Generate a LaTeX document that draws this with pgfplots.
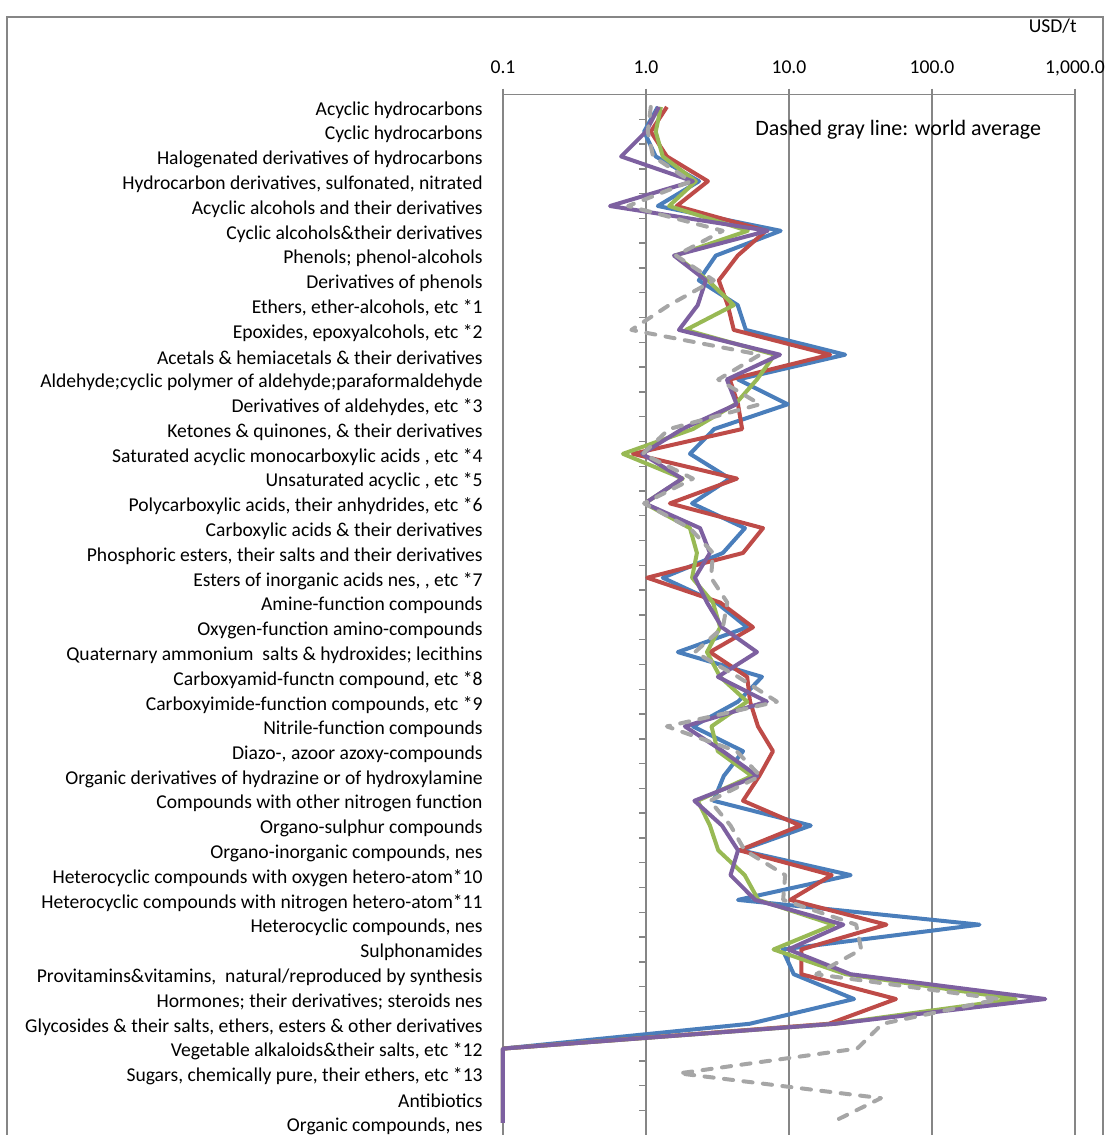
\documentclass[border=0pt]{standalone}
\usepackage{pgfplots}
\pgfplotsset{compat=1.18}
\usepackage{pgfplotstable}
\usepackage{fontspec}
\setmainfont{Carlito}

\definecolor{gridgray}{HTML}{868686}
\definecolor{sblue}{HTML}{4A7EBB}
\definecolor{sred}{HTML}{BE4B48}
\definecolor{sgreen}{HTML}{98B954}
\definecolor{spurple}{HTML}{7D60A0}
\definecolor{sgray}{HTML}{A6A6A6}

% unit prices, USD/t; y = 41 is the first category (top row)
\pgfplotstableread{
y  world blue red  green purple
41 1.08  1.21 1.40 1.27  1.23
40 1.03  0.97 1.08 1.17  1.00
39 1.12  1.17 1.40 1.31  0.67
38 2.06  2.35 2.71 2.23  2.13
37 0.75  1.21 1.64 1.45  0.56
36 3.44  8.75 6.90 5.15  7.10
35 1.62  3.08 4.38 1.60  1.57
34 2.98  2.34 3.23 2.71  2.62
33 1.45  4.38 3.73 4.11  2.30
32 0.79  4.99 4.11 1.90  1.70
31 6.27  24.7 19.4 7.95  8.65
30 3.20  4.40 3.86 5.97  3.68
29 6.27  9.80 4.40 4.20  4.30
28 1.45  3.00 4.70 2.13  1.79
27 0.95  2.03 0.81 0.69  0.94
26 2.13  3.86 4.33 1.81  1.79
25 0.97  2.10 1.47 0.98  0.98
24 2.03  4.92 6.58 2.03  2.39
23 2.94  3.45 4.77 2.27  2.80
22 2.85  1.31 1.02 2.10  2.20
21 3.70  3.10 3.30 2.94  2.67
20 3.45  5.10 5.60 3.30  3.40
19 2.20  1.67 2.80 2.67  5.97
18 4.40  6.47 5.10 3.30  3.18
17 8.24  4.40 5.34 5.10  7.00
16 1.40  2.13 6.07 2.87  1.87
15 4.30  4.77 7.73 3.18  3.45
14 6.30  3.50 6.20 5.50  6.00
13 2.80  2.97 4.77 2.30  2.18
12 3.90  14.2 12.0 2.80  3.40
11 4.90  4.60 4.50 3.20  4.40
10 9.40  27.0 19.9 4.90  3.90
9  9.10  4.40 10.2 6.10  5.80
8  29.5  215  48.0 20.5  24.0
7  32.0  9.00 12.2 7.80  9.90
6  15.5  10.8 12.2 25.0  27.0
5  295   28.5 56.0 385   620
4  45.0  5.30 19.0 21.0  21.0
3  30.0  0.1  0.1  0.1   0.1
2  1.70  0.1  0.1  0.1   0.1
1  44.0  0.1  0.1  0.1   0.1
0  19.6  0.1  0.1  0.1   0.1
}\prices

\begin{document}
\begin{tikzpicture}[x=0.5pt,y=-0.5pt]
  % chart frame
  \draw[gridgray, line width=0.7pt] (7,1145) -- (7,17) -- (1103,17) -- (1103,1145);
  \node[anchor=east, inner sep=0pt, font=\fontsize{9.8}{11}\selectfont] at (1077,26) {USD/t};

  \begin{axis}[
      at={(251.5pt,-47.25pt)}, anchor=north west,
      scale only axis, width=286pt, height=520.4pt,
      xmode=log, xmin=0.1, xmax=1000,
      ymin=-0.5, ymax=41.5,
      clip=false,
      axis line style={draw=none},
      xtick={0.1,1,10,100,1000},
      xticklabels={0.1,1.0,10.0,100.0,{1,000.0}},
      xtick pos=right, xticklabel pos=right,
      xminorticks=false,
      tick align=outside, major tick length=3pt,
      xtick style={draw=gridgray, line width=0.7pt},
      xmajorgrids,
      major grid style={draw=gridgray, line width=0.7pt},
      xticklabel style={anchor=base, inner sep=0pt, yshift=7.5pt},
      ytick={0,...,41},
      ytick style={draw=none},
      yticklabel style={anchor=east, inner sep=0pt, xshift=-7pt, yshift=-1.5pt},
      tick label style={font=\fontsize{9.8}{11}\selectfont},
      /pgf/number format/assume math mode=true,
      yticklabels={
        {Organic compounds, nes},
        {Antibiotics},
        {Sugars, chemically pure, their ethers, etc *13},
        {Vegetable alkaloids\&their salts, etc *12},
        {Glycosides \& their salts, ethers, esters \& other derivatives},
        {Hormones; their derivatives; steroids nes},
        {Provitamins\&vitamins, \ natural/reproduced by synthesis},
        {Sulphonamides},
        {Heterocyclic compounds, nes},
        {Heterocyclic compounds with nitrogen hetero-atom*11},
        {Heterocyclic compounds with oxygen hetero-atom*10},
        {Organo-inorganic compounds, nes},
        {Organo-sulphur compounds},
        {Compounds with other nitrogen function},
        {Organic derivatives of hydrazine or of hydroxylamine},
        {Diazo-, azoor azoxy-compounds},
        {Nitrile-function compounds},
        {Carboxyimide-function compounds, etc *9},
        {Carboxyamid-functn compound, etc *8},
        {Quaternary ammonium \ salts \& hydroxides; lecithins},
        {Oxygen-function amino-compounds},
        {Amine-function compounds},
        {Esters of inorganic acids nes, , etc *7},
        {Phosphoric esters, their salts and their derivatives},
        {Carboxylic acids \& their derivatives},
        {Polycarboxylic acids, their anhydrides, etc *6},
        {Unsaturated acyclic , etc *5},
        {Saturated acyclic monocarboxylic acids , etc *4},
        {Ketones \& quinones, \& their derivatives},
        {Derivatives of aldehydes, etc *3},
        {Aldehyde;cyclic polymer of aldehyde;paraformaldehyde},
        {Acetals \& hemiacetals \& their derivatives},
        {Epoxides, epoxyalcohols, etc *2},
        {Ethers, ether-alcohols, etc *1},
        {Derivatives of phenols},
        {Phenols; phenol-alcohols},
        {Cyclic alcohols\&their derivatives},
        {Acyclic alcohols and their derivatives},
        {Hydrocarbon derivatives, sulfonated, nitrated},
        {Halogenated derivatives of hydrocarbons},
        {Cyclic hydrocarbons},
        {Acyclic hydrocarbons}
      },
      every axis plot/.append style={line width=2pt, line join=round},
    ]
    % top value axis line and category axis at 1.0
    \draw[gridgray, line width=0.7pt] (rel axis cs:0,1) -- (rel axis cs:1,1);
    \draw[gridgray, line width=0.7pt] (axis cs:1,-0.5) -- (axis cs:1,41.5);
    \pgfplotsinvokeforeach{1,...,41}{
      \draw[gridgray, line width=0.7pt] (axis cs:1,#1-0.5) -- ([xshift=-3.4pt]axis cs:1,#1-0.5);
    }

    \addplot[sblue] table[x=blue, y=y] {\prices};
    \addplot[sred] table[x=red, y=y] {\prices};
    \addplot[sgreen] table[x=green, y=y] {\prices};
    \addplot[spurple] table[x=purple, y=y] {\prices};
    \addplot[sgray, line cap=round, dash pattern=on 4.6pt off 5.2pt] table[x=world, y=y] {\prices};
  \end{axis}

  \node[anchor=west, inner sep=0pt, font=\fontsize{11}{13}\selectfont] at (755,130) {Dashed gray line: world average};

  \pgfresetboundingbox
  \useasboundingbox (0,0) rectangle (1109,1135);
\end{tikzpicture}
\end{document}
